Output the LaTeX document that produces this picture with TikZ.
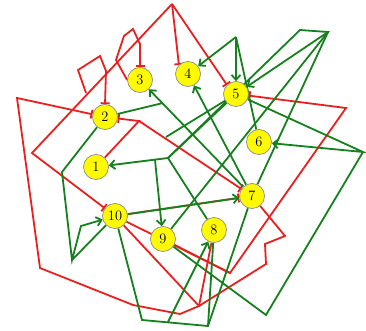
\documentclass[tikz,border=0pt]{standalone}
\usetikzlibrary{arrows.meta,backgrounds}
\definecolor{inhib}{RGB}{232,32,32}
\definecolor{activ}{RGB}{22,128,30}
\definecolor{genefill}{RGB}{255,250,0}
\tikzset{
    gene/.style={circle,draw=black!45,fill=genefill,line width=0.7pt,minimum size=25pt,inner sep=0pt,font=\Large},
    act/.style={draw=activ,line width=1.8pt,-{Straight Barb[length=5pt,width=9pt,line width=1.8pt]}},
    actline/.style={draw=activ,line width=1.8pt},
    rep/.style={draw=inhib,line width=1.8pt,-{Bar[width=9pt,line width=1.8pt]}},
    repline/.style={draw=inhib,line width=1.8pt},
}
\begin{document}
\begin{tikzpicture}[x=1pt,y=-1pt,line join=round]
    \useasboundingbox (0,0) rectangle (366,331);
    \node[gene] (n1) at (96,167) {1};
    \node[gene] (n2) at (105,117) {2};
    \node[gene] (n3) at (140,80) {3};
    \node[gene] (n4) at (188,74) {4};
    \node[gene] (n5) at (236,94) {5};
    \node[gene] (n6) at (259,142) {6};
    \node[gene] (n7) at (252,196) {7};
    \node[gene] (n8) at (214,230) {8};
    \node[gene] (n9) at (163,239) {9};
    \node[gene] (n10) at (115,216) {10};
    \coordinate (pk) at (172,4);
    \coordinate (ra) at (32,153);
    \coordinate (rx) at (139,121);
    \coordinate (ro1) at (17,98);
    \coordinate (ro2) at (40,268);
    \coordinate (ro3) at (133,305);
    \coordinate (ro4) at (180,314);
    \coordinate (rb) at (199,306);
    \coordinate (ro5) at (266,264);
    \coordinate (ro6) at (265,244);
    \coordinate (ro7) at (285,236);
    \coordinate (rr1) at (230,273);
    \coordinate (rr2) at (346,108);
    \coordinate (gp) at (236,37);
    \coordinate (gq1) at (300,30);
    \coordinate (gq2) at (328,32);
    \coordinate (gr) at (363,152);
    \coordinate (gv) at (266,315);
    \coordinate (gj) at (168,158);
    \coordinate (gt) at (155,160);
    \coordinate (gk) at (166,137);
    \coordinate (g2r) at (163,103);
    \coordinate (gl1) at (62,172);
    \coordinate (gl2) at (72,260);
    \coordinate (gl3) at (81,226);
    \coordinate (gb1) at (142,320);
    \coordinate (gs) at (168,322);
    \coordinate (gb2) at (208,326);
    \begin{scope}[on background layer]
        \draw[rep] (pk) -- (n4.north west);
        \draw[rep] (pk) -- (n5.north west);
        \draw[rep] (pk) -- (ra) -- (n10);
        \draw[rep] (n3.west) -- (116,60) -- (124,36) -- (133,29) -- (140,44) -- (n3.north);
        \draw[rep] (86,93) -- (78,70) -- (100,56) -- (106,71) -- (n2.north);
        \draw[rep] (n7) -- (ro7) -- (ro6) -- (ro5) -- (rb) -- (ro4) -- (ro3) -- (ro2) -- (ro1) -- (n2);
        \draw[rep] (n1) -- (rx) -- (n2);
        \draw[rep] (rx) -- (n7);
        \draw[rep] (n10) -- (rr1) -- (rr2) -- (n5);
        \draw[repline] (n9) -- (rr1);
        \draw[rep] (n10) -- (n7);
        \draw[repline] (n10) -- (rb);
        \draw[repline] (n8) -- (rb);
        \draw[act] (gp) -- (n4);
        \draw[act] (gp) -- (n5.north);
        \draw[actline] (gp) -- (n6);
        \draw[actline] (n9) -- (gq2) -- (gq1) -- (gj);
        \draw[act] (gq2) -- (n5);
        \draw[actline] (gq2) -- (n7);
        \draw[act] (n5) -- (gj) -- (n1);
        \draw[actline] (gj) -- (n8);
        \draw[actline] (n5) -- (gk);
        \draw[act] (gt) -- (n9);
        \draw[act] (n5) -- (gr) -- (n6);
        \draw[actline] (n9) -- (gv) -- (gr);
        \draw[act] (n7) -- (n4);
        \draw[act] (n7) -- (n3);
        \draw[act] (n10) -- (n7);
        \draw[actline] (n2) -- (g2r);
        \draw[act] (n2) -- (gl1) -- (gl2) -- (gl3) -- (n10);
        \draw[actline] (gl2) -- (n10);
        \draw[actline] (n10) -- (gb1) -- (gb2) -- (n7);
        \draw[actline] (gb2) -- (n8);
        \draw[act] (gs) -- (n8);
    \end{scope}
\end{tikzpicture}
\end{document}
